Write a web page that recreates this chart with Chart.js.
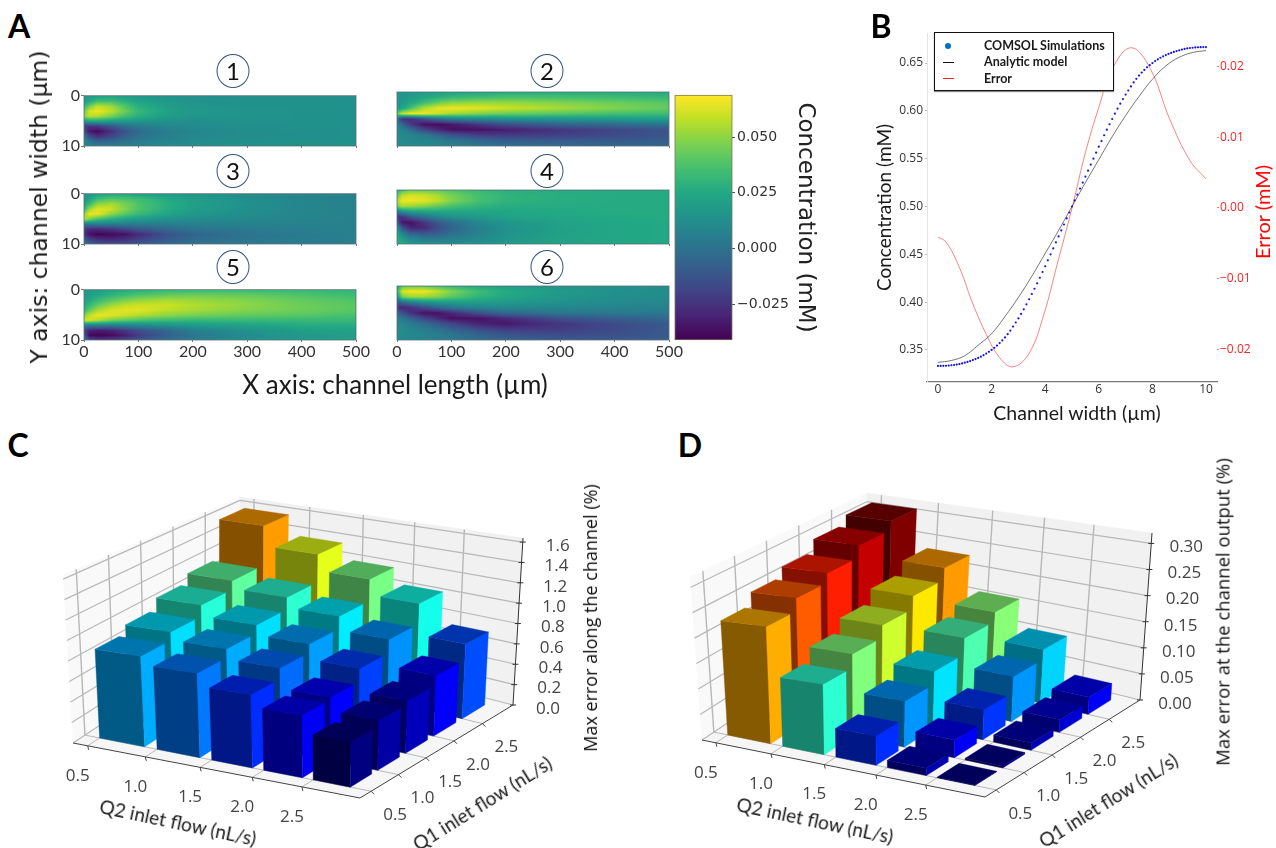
<!DOCTYPE html>
<html>
<head>
<meta charset="utf-8">
<script src="https://cdn.jsdelivr.net/npm/chart.js@4"></script>
<style>
  html, body { margin: 0; padding: 0; background: #fff; }
  #page { position: relative; width: 1276px; height: 848px; overflow: hidden; }
  canvas { position: absolute; }
  .soft { filter: blur(0.4px); }
  .lbl { position: absolute; white-space: nowrap; transform: translate(-50%, -50%); color: #1a1a1a; font-family: Lato, sans-serif; line-height: 1; }
  .letter { font-weight: 700; font-size: 32px; color: #000; }
  .num { position: absolute; width: 31px; height: 32px; border: 1px solid #34527f; border-radius: 50%; transform: translate(-50%, -50%); text-align: center; font: 24px/32px Lato, sans-serif; color: #111; background: #fff; }
  #legend { position: absolute; left: 934px; top: 32px; width: 178px; height: 57px; background: #fff; border: 1.5px solid #111; box-shadow: 0 1px 1px #888; font: 700 12.5px Lato, sans-serif; color: #1a1a1a; }
  #legend div { position: absolute; left: 49px; }
  #legend i { position: absolute; display: block; }
</style>
</head>
<body>
<div id="page">
  <canvas id="h1" class="soft"></canvas><canvas id="h2" class="soft"></canvas><canvas id="h3" class="soft"></canvas>
  <canvas id="h4" class="soft"></canvas><canvas id="h5" class="soft"></canvas><canvas id="h6" class="soft"></canvas>
  <canvas id="cbar" class="soft"></canvas>
  <canvas id="lines"></canvas>
  <canvas id="barsC" class="soft"></canvas>
  <canvas id="barsD" class="soft"></canvas>

  <div class="lbl letter" style="left:19px;top:26px">A</div>
  <div class="lbl letter" style="left:881px;top:26px">B</div>
  <div class="lbl letter" style="left:18px;top:445px">C</div>
  <div class="lbl letter" style="left:690px;top:445px">D</div>

  <div class="num" style="left:233px;top:71px">1</div>
  <div class="num" style="left:547px;top:71px">2</div>
  <div class="num" style="left:233px;top:171px">3</div>
  <div class="num" style="left:547px;top:171px">4</div>
  <div class="num" style="left:233px;top:267px">5</div>
  <div class="num" style="left:547px;top:267px">6</div>

  <div class="lbl" style="left:39px;top:207px;font:23.5px 'DejaVu Sans';transform:translate(-50%,-50%) rotate(-90deg)">Y axis: channel width (μm)</div>
  <div class="lbl" style="left:395px;top:384px;font-size:26px">X axis: channel length (µm)</div>

  <div class="lbl" style="left:1077px;top:413px;font-size:19.5px">Channel width (µm)</div>
  <div class="lbl" style="left:1262px;top:212px;font-size:20px;color:#f00;transform:translate(-50%,-50%) rotate(-90deg)">Error (mM)</div>

  <div id="legend">
    <i style="left:10px;top:10px;width:6px;height:6px;border-radius:50%;background:#0070c0"></i>
    <i style="left:8px;top:29px;width:11px;height:1px;background:#111"></i>
    <i style="left:8px;top:45px;width:11px;height:1px;background:#f22"></i>
    <div style="top:5px">COMSOL Simulations</div>
    <div style="top:21px">Analytic model</div>
    <div style="top:38px">Error</div>
  </div>

  <div class="lbl" style="left:178px;top:822px;font-size:19px;transform:translate(-50%,-50%) rotate(12deg)">Q2 inlet flow (nL/s)</div>
  <div class="lbl" style="left:482px;top:803px;font-size:19px;transform:translate(-50%,-50%) rotate(-32deg)">Q1 inlet flow (nL/s)</div>
  <div class="lbl" style="left:590px;top:618px;font:18px 'Open Sans';color:#111;transform:translate(-50%,-50%) rotate(-90deg)">Max error along the channel (%)</div>
  <div class="lbl" style="left:815px;top:820px;font-size:19px;transform:translate(-50%,-50%) rotate(12deg)">Q2 inlet flow (nL/s)</div>
  <div class="lbl" style="left:1108px;top:800px;font-size:19px;transform:translate(-50%,-50%) rotate(-32deg)">Q1 inlet flow (nL/s)</div>
  <div class="lbl" style="left:1222px;top:612px;font:18.5px 'Open Sans';color:#111;transform:translate(-50%,-50%) rotate(-90deg)">Max error at the channel output (%)</div>
</div>

<script>
// panel A, values in 0.001 mM, one row per y position, one column per x position
const heatX = [0, 10, 25, 50, 75, 100, 150, 200, 300, 400, 500];
const heatY = [0, 1, 2, 3, 4, 5, 6, 7, 8, 9, 10];
const heat1 = [
  [16,18,22,22,20,18,15,14,14,14,14],
  [18,24,34,34,28,22,17,15,14,14,14],
  [28,44,58,52,38,28,20,16,14,14,14],
  [42,62,66,58,44,32,22,17,15,14,14],
  [50,58,56,46,36,28,20,16,15,14,14],
  [14,22,24,20,18,16,14,13,14,14,14],
  [-20,-24,-22,-12,-2,4,9,11,13,14,14],
  [-14,-34,-38,-26,-12,-3,5,9,12,13,14],
  [4,-16,-26,-18,-8,0,6,10,12,13,14],
  [10,2,-6,-4,0,4,8,11,13,14,14],
  [12,8,6,6,6,8,11,12,14,14,14],
];
const heat2 = [
  [16,16,17,18,20,22,24,26,27,27,26],
  [16,17,19,24,28,32,35,37,36,34,32],
  [16,18,24,34,44,50,52,52,48,44,40],
  [17,22,36,56,64,66,64,60,54,48,42],
  [40,60,66,66,60,54,48,44,40,36,34],
  [0,-26,-28,-14,-2,6,10,14,16,18,20],
  [8,-4,-22,-36,-38,-34,-24,-14,-6,-2,2],
  [10,8,-2,-18,-28,-36,-36,-32,-24,-18,-12],
  [11,10,9,4,-4,-12,-20,-22,-20,-16,-12],
  [12,11,10,9,6,2,-4,-8,-10,-10,-8],
  [13,12,11,10,9,7,3,0,-3,-5,-5],
];
const heat3 = [
  [16,18,22,24,24,22,19,16,12,9,7],
  [16,22,34,40,38,34,26,20,13,9,7],
  [20,34,50,54,46,38,28,21,14,9,7],
  [30,52,64,60,48,38,27,20,13,9,7],
  [50,66,64,50,40,32,23,17,12,9,7],
  [58,46,36,28,22,18,14,12,10,8,7],
  [0,2,4,4,5,5,5,6,7,7,7],
  [-22,-28,-28,-24,-18,-12,-4,1,4,6,7],
  [-24,-36,-40,-38,-36,-28,-14,-6,1,4,6],
  [-8,-20,-26,-28,-26,-20,-10,-3,2,5,6],
  [4,-4,-12,-14,-14,-10,-4,0,3,5,6],
];
const heat4 = [
  [28,36,44,44,42,38,32,28,26,26,26],
  [40,58,62,60,54,46,36,30,27,26,26],
  [54,66,66,64,58,48,36,30,27,26,26],
  [46,54,52,48,42,36,30,27,26,26,26],
  [2,14,20,22,24,24,24,24,25,26,26],
  [-26,-24,-12,0,8,14,18,22,24,25,26],
  [-12,-34,-36,-24,-10,-2,10,16,22,24,25],
  [12,-14,-30,-28,-16,-6,6,14,21,24,25],
  [24,6,-8,-12,-8,-2,7,14,21,24,25],
  [28,20,10,4,4,6,10,16,22,24,25],
  [28,24,18,14,12,12,14,18,22,24,25],
];
const heat5 = [
  [18,18,20,24,26,28,32,33,33,32,30],
  [18,20,24,30,34,38,42,44,42,38,34],
  [20,24,32,40,46,50,54,52,48,42,38],
  [24,32,42,52,58,60,60,56,50,44,40],
  [30,42,54,62,64,64,58,54,48,44,40],
  [46,58,66,64,60,56,50,46,42,40,36],
  [60,62,56,46,42,38,34,32,32,32,32],
  [8,6,6,6,8,10,14,18,22,26,26],
  [-18,-30,-32,-30,-22,-14,-4,6,14,20,22],
  [-12,-38,-40,-38,-32,-22,-8,2,12,18,20],
  [4,-14,-22,-20,-16,-10,-2,6,14,18,20],
];
const heat6 = [
  [20,40,44,42,36,30,24,20,16,14,12],
  [28,62,66,66,58,48,34,26,18,14,12],
  [14,46,52,52,48,40,30,24,17,13,11],
  [-12,-2,6,14,18,20,20,18,14,11,10],
  [-24,-30,-26,-16,-6,2,8,10,9,8,7],
  [-4,-14,-26,-36,-36,-28,-14,-4,2,3,3],
  [6,2,-6,-18,-28,-36,-36,-28,-14,-8,-4],
  [10,9,5,-2,-10,-18,-30,-34,-24,-16,-10],
  [12,11,9,5,0,-6,-16,-22,-22,-16,-10],
  [12,11,10,8,5,2,-6,-12,-16,-14,-10],
  [12,11,10,8,6,4,-2,-6,-10,-10,-8],
];
const lengthTicks = [0, 100, 200, 300, 400, 500];
const widthTicks = [0, 10];
const cbarTicks = [0.05, 0.025, 0, -0.025];
const cbarMin = -0.0408;
const cbarMax = 0.0687;

// panel B
const simX = [0,0.1,0.2,0.3,0.4,0.5,0.6,0.7,0.8,0.9,1,1.1,1.2,1.3,1.4,1.5,1.6,1.7,1.8,1.9,2,2.1,2.2,2.3,2.4,2.5,2.6,2.7,2.8,2.9,3,3.1,3.2,3.3,3.4,3.5,3.6,3.7,3.8,3.9,4,4.1,4.2,4.3,4.4,4.5,4.6,4.7,4.8,4.9,5,5.1,5.2,5.3,5.4,5.5,5.6,5.7,5.8,5.9,6,6.1,6.2,6.3,6.4,6.5,6.6,6.7,6.8,6.9,7,7.1,7.2,7.3,7.4,7.5,7.6,7.7,7.8,7.9,8,8.1,8.2,8.3,8.4,8.5,8.6,8.7,8.8,8.9,9,9.1,9.2,9.3,9.4,9.5,9.6,9.7,9.8,9.9,10];
const simConc = [0.3333,0.3333,0.3334,0.3335,0.3337,0.334,0.3343,0.3347,0.3352,0.3359,0.3367,0.3375,0.3384,0.3394,0.3405,0.3417,0.343,0.3445,0.3462,0.348,0.35,0.3522,0.3546,0.3572,0.36,0.3631,0.3665,0.3703,0.3745,0.3787,0.383,0.3877,0.3925,0.3977,0.403,0.4085,0.414,0.4197,0.4255,0.4315,0.4375,0.4437,0.45,0.4562,0.4625,0.4687,0.475,0.4812,0.4875,0.4937,0.5,0.5063,0.5125,0.5188,0.525,0.5313,0.5375,0.5438,0.55,0.5563,0.5625,0.5685,0.5745,0.5803,0.586,0.5915,0.597,0.6023,0.6075,0.6123,0.617,0.6213,0.6255,0.6297,0.6335,0.6369,0.64,0.6428,0.6455,0.6478,0.65,0.652,0.6538,0.6555,0.657,0.6583,0.6595,0.6606,0.6616,0.6625,0.6633,0.6641,0.6648,0.6653,0.6657,0.666,0.6663,0.6665,0.6666,0.6667,0.6667];
const fitX = [0,0.5,1,1.5,2,2.5,3,3.5,4,4.5,5,5.5,6,6.5,7,7.5,8,8.5,9,9.5,10];
const fitConc = [0.337,0.339,0.344,0.355,0.367,0.385,0.405,0.427,0.451,0.475,0.5,0.525,0.549,0.573,0.595,0.615,0.633,0.647,0.656,0.661,0.663];
const errX = [0,0.3,0.8,1.3,1.8,2.3,2.8,3.4,3.95,4.45,5,5.5,6,6.5,7.2,7.9,8.65,9.4,10];
const errVal = [-0.0041,-0.0048,-0.0084,-0.0135,-0.0178,-0.0211,-0.0224,-0.0205,-0.015,-0.0079,0,0.0078,0.0142,0.0196,0.0226,0.0198,0.0125,0.0067,0.0041];
const widthAxis = [0, 2, 4, 6, 8, 10];
const concTicks = [0.35, 0.4, 0.45, 0.5, 0.55, 0.6, 0.65];
const errTicks = [-0.02, -0.01, 0, 0.01, 0.02];

// panels C and D, one row per Q2 value, one column per Q1 value
const flowTicks = [0.5, 1, 1.5, 2, 2.5];
const errorC = [
  [0.87,0.95,1.06,1.15,1.58],
  [0.79,0.87,0.95,1.07,1.36],
  [0.67,0.77,0.85,0.97,1.19],
  [0.56,0.58,0.70,0.83,1.03],
  [0.40,0.45,0.48,0.57,0.72],
];
const errorD = [
  [0.225,0.250,0.269,0.294,0.313],
  [0.131,0.157,0.181,0.207,0.231],
  [0.053,0.085,0.109,0.141,0.159],
  [0.013,0.032,0.055,0.085,0.104],
  [0.001,0.003,0.013,0.023,0.032],
];
const zTicksC = [0, 0.2, 0.4, 0.6, 0.8, 1, 1.2, 1.4, 1.6];
const zTicksD = [0, 0.05, 0.1, 0.15, 0.2, 0.25, 0.3];

const viridis = ["#440154","#482475","#414487","#355f8d","#2a788e","#21918c","#22a884","#44bf70","#7ad151","#bddf26","#fde725"]
  .map(h => [1, 3, 5].map(i => parseInt(h.slice(i, i + 2), 16)));
const jetStops = [[0,0,0,128],[0.11,0,0,255],[0.125,0,0,255],[0.375,0,255,255],[0.625,255,255,0],[0.64,255,255,0],[0.89,255,0,0],[1,128,0,0]];

function viridisAt(t) {
  t = Math.min(1, Math.max(0, t)) * (viridis.length - 1);
  const i = Math.min(viridis.length - 2, Math.floor(t));
  const f = t - i;
  return viridis[i].map((c, k) => c + (viridis[i + 1][k] - c) * f);
}

function jetAt(t) {
  t = Math.min(1, Math.max(0, t));
  let i = 0;
  while (i < jetStops.length - 2 && t > jetStops[i + 1][0]) i++;
  const a = jetStops[i], b = jetStops[i + 1];
  const f = (t - a[0]) / (b[0] - a[0]);
  return [1, 2, 3].map(k => a[k] + (b[k] - a[k]) * f);
}

function place(id, left, top, width, height) {
  const c = document.getElementById(id);
  c.style.left = left + "px";
  c.style.top = top + "px";
  c.width = width;
  c.height = height;
  c.style.width = width + "px";
  c.style.height = height + "px";
  return c;
}

function findCell(list, v) {
  let i = 0;
  while (i < list.length - 2 && v > list[i + 1]) i++;
  return [i, (v - list[i]) / (list[i + 1] - list[i])];
}

const common = { responsive: false, animation: false, plugins: { legend: { display: false }, tooltip: { enabled: false } } };

// ---- panel A ----
function heatPanel(id, grid, col, hasXLabels, hasYLabels, rowTop) {
  const canvas = place(id, col - 30, rowTop - 7, 320, 89);
  const points = [];
  grid.forEach((r, j) => r.forEach((v, i) => points.push({ x: heatX[i], y: heatY[j], v: v })));
  new Chart(canvas, {
    type: "scatter",
    data: { datasets: [{ data: points, pointRadius: 0 }] },
    options: {
      ...common,
      layout: { padding: { top: 7, right: 18 } },
      scales: {
        x: {
          min: 0, max: 500,
          afterBuildTicks: s => { s.ticks = lengthTicks.map(v => ({ value: v })); },
          afterFit: s => { s.height = 28; },
          grid: { drawOnChartArea: false, tickLength: 2, color: "#777" },
          border: { display: false },
          ticks: { display: hasXLabels, maxRotation: 0, padding: 0, color: "#333", font: { family: "Lato", size: 16 }, callback: v => String(v) },
        },
        y: {
          reverse: true, min: 0, max: 10,
          afterBuildTicks: s => { s.ticks = widthTicks.map(v => ({ value: v })); },
          afterFit: s => { s.width = 30; },
          grid: { drawOnChartArea: false, drawTicks: hasYLabels, tickLength: 3, color: "#777" },
          border: { display: false },
          ticks: { display: hasYLabels, padding: 1, color: "#333", font: { family: "Lato", size: 16 }, callback: v => String(v) },
        },
      },
    },
    plugins: [{
      id: "field",
      beforeDatasetsDraw(chart) {
        const a = chart.chartArea, sx = chart.scales.x, sy = chart.scales.y;
        const w = Math.round(a.right - a.left), h = Math.round(a.bottom - a.top);
        const img = chart.ctx.createImageData(w, h);
        for (let py = 0; py < h; py++) {
          const [j, fy] = findCell(heatY, sy.getValueForPixel(a.top + py + 0.5));
          for (let px = 0; px < w; px++) {
            const [i, fx] = findCell(heatX, sx.getValueForPixel(a.left + px + 0.5));
            const v = (grid[j][i] * (1 - fx) + grid[j][i + 1] * fx) * (1 - fy) +
                      (grid[j + 1][i] * (1 - fx) + grid[j + 1][i + 1] * fx) * fy;
            const c = viridisAt((v / 1000 - cbarMin) / (cbarMax - cbarMin));
            const o = (py * w + px) * 4;
            img.data[o] = c[0]; img.data[o + 1] = c[1]; img.data[o + 2] = c[2]; img.data[o + 3] = 255;
          }
        }
        chart.ctx.putImageData(img, Math.round(a.left), Math.round(a.top));
        chart.ctx.strokeStyle = "rgba(90,110,120,0.8)";
        chart.ctx.lineWidth = 1;
        chart.ctx.strokeRect(a.left, a.top, a.right - a.left, a.bottom - a.top);
      },
    }],
  });
}
heatPanel("h1", heat1, 84, false, true, 92);
heatPanel("h2", heat2, 397, false, false, 92);
heatPanel("h3", heat3, 84, false, true, 190);
heatPanel("h4", heat4, 397, false, false, 190);
heatPanel("h5", heat5, 84, true, true, 286);
heatPanel("h6", heat6, 397, true, false, 286);

new Chart(place("cbar", 665, 85, 170, 265), {
  type: "scatter",
  data: { datasets: [{ data: [{ x: 0, y: cbarMin }, { x: 0, y: cbarMax }], pointRadius: 0 }] },
  options: {
    ...common,
    layout: { padding: { top: 6, left: 10, bottom: 10 } },
    scales: {
      x: { display: false, min: 0, max: 1 },
      y: {
        position: "right", min: cbarMin, max: cbarMax,
        afterBuildTicks: s => { s.ticks = cbarTicks.map(v => ({ value: v })); },
        afterFit: s => { s.width = 103; },
        grid: { drawOnChartArea: false, tickLength: 3, color: "#555" },
        border: { display: false },
        ticks: { padding: 2, color: "#333", font: { family: "DejaVu Sans", size: 14 }, callback: v => (v < 0 ? "\u2212" : "") + Math.abs(v).toFixed(3) },
        title: { display: true, text: "Concentration (mM)", color: "#222", font: { family: "DejaVu Sans", size: 23 }, padding: { top: 16, bottom: 0 } },
      },
    },
  },
  plugins: [{
    id: "ramp",
    beforeDatasetsDraw(chart) {
      const a = chart.chartArea, sy = chart.scales.y, ctx = chart.ctx;
      for (let p = Math.floor(a.top); p < a.bottom; p++) {
        const c = viridisAt((sy.getValueForPixel(p + 0.5) - cbarMin) / (cbarMax - cbarMin));
        ctx.fillStyle = `rgb(${c.map(Math.round).join(",")})`;
        ctx.fillRect(a.left, p, a.right - a.left, 1);
      }
      ctx.strokeStyle = "rgba(120,120,90,0.8)";
      ctx.strokeRect(a.left, a.top, a.right - a.left, a.bottom - a.top);
    },
  }],
});

// ---- panel B ----
new Chart(place("lines", 860, 20, 416, 420), {
  type: "scatter",
  data: {
    datasets: [
      { data: simX.map((x, i) => ({ x: x, y: simConc[i] })), yAxisID: "y", pointRadius: 1.1, pointBackgroundColor: "#1414e6", pointBorderWidth: 0, showLine: false, order: 1 },
      { data: fitX.map((x, i) => ({ x: x, y: fitConc[i] })), yAxisID: "y", pointRadius: 0, showLine: true, borderColor: "rgba(40,40,40,0.8)", borderWidth: 0.8, tension: 0.4, order: 2 },
      { data: errX.map((x, i) => ({ x: x, y: errVal[i] })), yAxisID: "y2", pointRadius: 0, showLine: true, borderColor: "rgba(240,50,50,0.75)", borderWidth: 0.8, tension: 0.4, order: 3 },
    ],
  },
  options: {
    ...common,
    layout: { padding: { top: 13 } },
    scales: {
      x: {
        min: -0.41, max: 10.41,
        afterBuildTicks: s => { s.ticks = widthAxis.map(v => ({ value: v })); },
        afterFit: s => { s.height = 58; },
        grid: { drawOnChartArea: false, drawTicks: false },
        border: { color: "#777", width: 1.2 },
        ticks: { maxRotation: 0, padding: 0, color: "#333", font: { family: "Open Sans", size: 12 }, callback: v => String(v) },
      },
      y: {
        min: 0.3165, max: 0.6814,
        afterBuildTicks: s => { s.ticks = concTicks.map(v => ({ value: v })); },
        afterFit: s => { s.width = 67; },
        grid: { drawOnChartArea: false, tickLength: 2, color: "#bbb" },
        border: { color: "#e4e4e4" },
        ticks: { padding: 2, color: "#333", font: { family: "Open Sans", size: 12 }, callback: v => v.toFixed(2) },
        title: { display: true, text: "Concentration (mM)", color: "#1a1a1a", font: { family: "Lato", size: 19 }, padding: { top: 13, bottom: 0 } },
      },
      y2: {
        position: "right", min: -0.02454, max: 0.02468,
        afterBuildTicks: s => { s.ticks = errTicks.map(v => ({ value: v })); },
        afterFit: s => { s.width = 59; },
        grid: { drawOnChartArea: false, tickLength: 2, color: "#f77" },
        border: { display: false },
        ticks: { padding: 1, color: "#f22", font: { family: "Open Sans", size: 12 }, callback: v => (v < 0 ? "\u2212" : "") + Math.abs(v).toFixed(2) },
      },
    },
  },
});

// ---- panels C and D ----
// maps the unit square onto the floor or the ceiling of the box, with perspective
function quadMap(p) {
  const dx1 = p[1][0] - p[2][0], dx2 = p[3][0] - p[2][0], sx = p[0][0] - p[1][0] + p[2][0] - p[3][0];
  const dy1 = p[1][1] - p[2][1], dy2 = p[3][1] - p[2][1], sy = p[0][1] - p[1][1] + p[2][1] - p[3][1];
  const det = dx1 * dy2 - dx2 * dy1;
  const g = (sx * dy2 - dx2 * sy) / det, h = (dx1 * sy - sx * dy1) / det;
  const a = p[1][0] - p[0][0] + g * p[1][0], b = p[3][0] - p[0][0] + h * p[3][0];
  const d = p[1][1] - p[0][1] + g * p[1][1], e = p[3][1] - p[0][1] + h * p[3][1];
  return (u, v) => {
    const w = g * u + h * v + 1;
    return [(a * u + b * v + p[0][0]) / w, (d * u + e * v + p[0][1]) / w];
  };
}

const q2ToBox = q => 0.045 + 0.365 * (q - 0.5);
const q1ToBox = q => 0.075 + 0.365 * (q - 0.5);
const barSpan = 0.39;

function barPanel(id, box, heights, zTicks, zMax, colorMin, colorMax, zDigits) {
  const floor = quadMap(box.floor), ceil = quadMap(box.ceil);
  const proj = (u, v, z) => {
    const f = floor(u, v), c = ceil(u, v), t = z / zMax;
    return [f[0] + (c[0] - f[0]) * t, f[1] + (c[1] - f[1]) * t];
  };
  const points = [];
  heights.forEach((r, i) => r.forEach((z, j) => {
    const p = proj(q2ToBox(flowTicks[i]), q1ToBox(flowTicks[j]), z);
    points.push({ x: p[0], y: p[1] });
  }));
  new Chart(place(id, box.left, 470, box.width, 378), {
    type: "scatter",
    data: { datasets: [{ data: points, pointRadius: 0 }] },
    options: {
      ...common,
      scales: {
        x: { display: false, min: box.left, max: box.left + box.width },
        y: { display: false, reverse: true, min: 470, max: 848 },
      },
    },
    plugins: [{
      id: "box3d",
      afterDatasetsDraw(chart) {
        const ctx = chart.ctx, sx = chart.scales.x, sy = chart.scales.y;
        const px = p => [sx.getPixelForValue(p[0]), sy.getPixelForValue(p[1])];
        const poly = (pts, fill) => {
          ctx.beginPath();
          pts.map(px).forEach((p, i) => (i ? ctx.lineTo(p[0], p[1]) : ctx.moveTo(p[0], p[1])));
          ctx.closePath();
          ctx.fillStyle = fill;
          ctx.fill();
          ctx.strokeStyle = fill;
          ctx.lineWidth = 0.4;
          ctx.stroke();
        };
        const line = (a, b, color, width) => {
          const p = px(a), q = px(b);
          ctx.beginPath();
          ctx.moveTo(p[0], p[1]);
          ctx.lineTo(q[0], q[1]);
          ctx.strokeStyle = color;
          ctx.lineWidth = width;
          ctx.stroke();
        };
        // walls and floor
        poly([proj(0, 0, 0), proj(0, 1, 0), proj(0, 1, zMax), proj(0, 0, zMax)], "#f9f9f9");
        poly([proj(0, 1, 0), proj(1, 1, 0), proj(1, 1, zMax), proj(0, 1, zMax)], "#f1f1f1");
        poly([proj(0, 0, 0), proj(1, 0, 0), proj(1, 1, 0), proj(0, 1, 0)], "#f6f6f6");
        const gridCol = "#b8b8b8";
        zTicks.forEach(z => {
          line(proj(0, 0, z), proj(0, 1, z), gridCol, 1.2);
          line(proj(0, 1, z), proj(1, 1, z), gridCol, 1.2);
        });
        flowTicks.forEach(q => {
          const t2 = q2ToBox(q), t1 = q1ToBox(q);
          line(proj(0, t1, 0), proj(0, t1, zMax), gridCol, 1.4);
          line(proj(t2, 1, 0), proj(t2, 1, zMax), gridCol, 1.4);
          line(proj(t2, 0, 0), proj(t2, 1, 0), gridCol, 1);
          line(proj(0, t1, 0), proj(1, t1, 0), gridCol, 1);
        });
        // outer axis lines and ticks
        line(proj(0, 0, 0), proj(1, 0, 0), "#444", 1);
        line(proj(1, 0, 0), proj(1, 1, 0), "#444", 1);
        line(proj(1, 1, 0), proj(1, 1, zMax), "#333", 1);
        ctx.font = "17px 'Open Sans'";
        ctx.textAlign = "center";
        ctx.textBaseline = "middle";
        flowTicks.forEach(q => {
          const a = proj(q2ToBox(q), 0, 0), b = proj(1, q1ToBox(q), 0);
          line(a, [a[0] + 1, a[1] + 4], "#444", 1);
          line(b, [b[0] + 3, b[1] + 3], "#444", 1);
          const la = px([a[0] - 10, a[1] + 30]), lb = px([b[0] + 24, b[1] + 24]);
          ctx.fillStyle = "#444";
          ctx.fillText(q.toFixed(1), la[0], la[1]);
          ctx.fillText(q.toFixed(1), lb[0], lb[1]);
        });
        zTicks.forEach(z => {
          const a = proj(1, 1, z);
          line([a[0] - 3, a[1]], [a[0] + 3, a[1]], "#333", 1);
          const l = px([a[0] + 35, a[1] + 4]);
          ctx.fillStyle = "#444";
          ctx.fillText(z.toFixed(zDigits), l[0], l[1]);
        });
        // bars, far ones first
        heights.forEach((r, i) => {
          for (let j = r.length - 1; j >= 0; j--) {
            const z = r[j];
            const u0 = q2ToBox(flowTicks[i]), u1 = q2ToBox(flowTicks[i] + barSpan);
            const v0 = q1ToBox(flowTicks[j]), v1 = q1ToBox(flowTicks[j] + barSpan);
            const c = jetAt((z - colorMin) / (colorMax - colorMin));
            const shade = k => `rgb(${c.map(x => Math.round(x * k)).join(",")})`;
            poly([proj(u0, v0, 0), proj(u1, v0, 0), proj(u1, v0, z), proj(u0, v0, z)], shade(0.52));
            poly([proj(u1, v0, 0), proj(u1, v1, 0), proj(u1, v1, z), proj(u1, v0, z)], shade(1));
            poly([proj(u0, v0, z), proj(u1, v0, z), proj(u1, v1, z), proj(u0, v1, z)], shade(0.68));
          }
        });
      },
    }],
  });
}

barPanel("barsC", {
  left: 0, width: 640,
  floor: [[73, 743], [360, 798], [513, 705], [238, 634]],
  ceil: [[63, 575], [362, 608], [523, 538], [240, 497]],
}, errorC, zTicksC, 1.64, 0.4, 2.0, 1);

barPanel("barsD", {
  left: 640, width: 636,
  floor: [[702, 740], [985, 797], [1140, 700], [864, 632]],
  ceil: [[690, 577], [987, 606], [1152, 533], [867, 493]],
}, errorD, zTicksD, 0.32, 0, 0.3125, 2);
</script>
</body>
</html>
